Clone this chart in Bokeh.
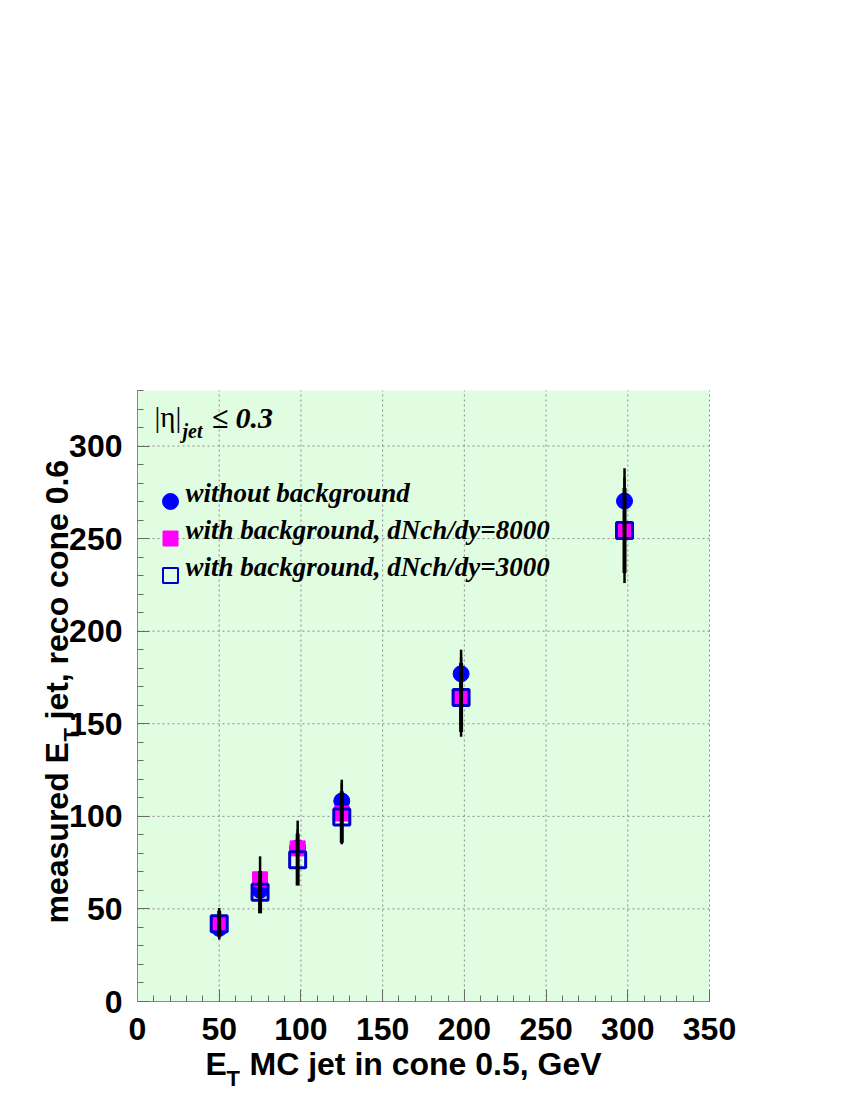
import numpy as np
from bokeh.plotting import figure
from bokeh.models import Label, FixedTicker, Range1d, LinearAxis, BoxAnnotation, Grid
from bokeh.embed import file_html
from bokeh.resources import INLINE

# ---------------- data ----------------
et_mc = [50, 75, 98, 125, 198, 298]
et_nobg = [39.5, 60, 83, 108.3, 177, 270.3]
err_nobg = [5, 8, 10, 11.5, 13, 17.7]
et_bg8000 = [42, 66, 82.7, 101.5, 164.5, 254.5]
err_bg8000 = [8.5, 12.4, 15, 16.6, 21.5, 28.5]
et_bg3000 = [42, 59, 76.6, 99.6, 164.2, 254.4]
err_bg3000 = [7, 11.4, 14, 13.9, 18.6, 23]

x_ticks = [0, 50, 100, 150, 200, 250, 300, 350]
y_ticks = [0, 50, 100, 150, 200, 250, 300]
legend_labels = ["without background",
                 "with background, dNch/dy=8000",
                 "with background, dNch/dy=3000"]

X_MAX, Y_MAX = 350, 330
FL, FT, FW, FH = 137, 390, 572, 611   # axes box geometry in page px
CW, CH = 840, 1092                    # drawing area (whole canvas is the frame)
KX, KY = FW / X_MAX, FH / Y_MAX


def dx(px):
    return (px - FL) / KX


def dy(py):
    return (FT + FH - py) / KY


p = figure(frame_width=CW, frame_height=CH,
           x_range=Range1d(dx(0), dx(CW)), y_range=Range1d(dy(CH), dy(0)),
           output_backend="svg", toolbar_location=None,
           x_axis_location=None, y_axis_location=None,
           min_border=0, background_fill_color="white", border_fill_color="white",
           outline_line_color=None)
p.center = [r for r in p.center if not isinstance(r, Grid)]

# plot-area background
p.add_layout(BoxAnnotation(left=0, right=X_MAX, bottom=0, top=Y_MAX,
                           fill_color="#e1fde1", fill_alpha=1, line_color=None, level="underlay"))

# grid (dotted, at the major ticks)
p.segment(x0=x_ticks, y0=[0] * len(x_ticks), x1=x_ticks, y1=[Y_MAX] * len(x_ticks),
          line_color="#8a8a8a", line_dash="2 3", line_width=1)
p.segment(x0=[0] * len(y_ticks), y0=y_ticks, x1=[X_MAX] * len(y_ticks), y1=y_ticks,
          line_color="#8a8a8a", line_dash="2 3", line_width=1)

# axes at the edges of the plot area
xaxis = LinearAxis(fixed_location=0, bounds=(0, X_MAX),
                   ticker=FixedTicker(ticks=x_ticks, minor_ticks=list(range(0, 351, 10))))
yaxis = LinearAxis(fixed_location=0, bounds=(0, Y_MAX),
                   ticker=FixedTicker(ticks=y_ticks, minor_ticks=list(range(0, 331, 10))))
for ax in (xaxis, yaxis):
    ax.axis_line_color = "#8a8a8a"
    ax.major_tick_line_color = "#6a6a6a"
    ax.minor_tick_line_color = "#6a6a6a"
    ax.major_tick_in = 12
    ax.major_tick_out = 0
    ax.minor_tick_in = 6
    ax.minor_tick_out = 0
    ax.major_label_text_font = "Liberation Sans"
    ax.major_label_text_font_style = "bold"
    ax.major_label_text_font_size = "32px"
    ax.major_label_text_color = "black"
xaxis.major_label_standoff = 16
yaxis.major_label_standoff = 15
p.add_layout(xaxis, "below")
p.add_layout(yaxis, "left")

# data markers
p.scatter(et_mc, et_nobg, marker="circle", size=16, fill_color="#0000ff", line_color="#0000ff")
p.scatter(et_mc, et_bg8000, marker="square", size=15, fill_color="#ff00ff", line_color="#ff00ff")
p.scatter(et_mc, et_bg3000, marker="square", size=16, fill_color=None, line_color="#0000cc", line_width=3)

# error bars (drawn on top, as in the reference)
x = np.array(et_mc)
for yv, ev, w in ((et_nobg, err_nobg, 2.5), (et_bg8000, err_bg8000, 2.5), (et_bg3000, err_bg3000, 4)):
    yv = np.array(yv); ev = np.array(ev)
    p.segment(x0=x, y0=yv - ev, x1=x, y1=yv + ev, line_color="black", line_width=w)

SERIF, SANS = "Liberation Serif", "Liberation Sans"
MID = {SERIF: 0.337, SANS: 0.346}   # em distance baseline -> middle of the text box


def text(txt, px, base_py, font, style, fs, angle=0.0):
    """Place text with its alphabetic baseline at base (page px)."""
    off = MID[font] * fs
    if angle == 0.0:
        ax_, ay_ = px, base_py - off
    else:  # rotated 90 deg CCW: baseline is a vertical line at px
        ax_, ay_ = px - off, base_py
    p.add_layout(Label(x=dx(ax_), y=dy(ay_), text=txt, angle=angle,
                       text_font=font, text_font_style=style, text_font_size=f"{fs}px",
                       text_baseline="middle", text_align="left", text_color="black"))


# legend (manual, ROOT-like)
leg_x = dx(170)
leg_rows = [501, 538, 575]
p.scatter([leg_x], [dy(leg_rows[0])], marker="circle", size=16, fill_color="#0000ff", line_color="#0000ff")
p.scatter([leg_x], [dy(leg_rows[1])], marker="square", size=15, fill_color="#ff00ff", line_color="#ff00ff")
p.scatter([leg_x], [dy(leg_rows[2])], marker="square", size=15, fill_color=None, line_color="#0000cc", line_width=2)
for lab, base in zip(legend_labels, [502, 539, 576]):
    text(lab, 185, base, SERIF, "bold italic", 27)

# eta label
text("|η|", 154, 426, SERIF, "normal", 29)
text("jet", 182, 437, SERIF, "bold italic", 20)
text("≤ 0.3", 211, 427, SERIF, "bold italic", 30)

# axis titles (with subscript T)
text("E", 205, 1075, SANS, "bold", 32)
text("T", 226, 1086, SANS, "bold", 22)
text("MC jet in cone 0.5, GeV", 249, 1075, SANS, "bold", 32)

text("measured E", 68, 923, SANS, "bold", 32, np.pi / 2)
text("T", 79, 741, SANS, "bold", 22, np.pi / 2)
text("jet, reco cone 0.6", 68, 719, SANS, "bold", 32, np.pi / 2)

open("out.html", "w").write(file_html(p, INLINE))
